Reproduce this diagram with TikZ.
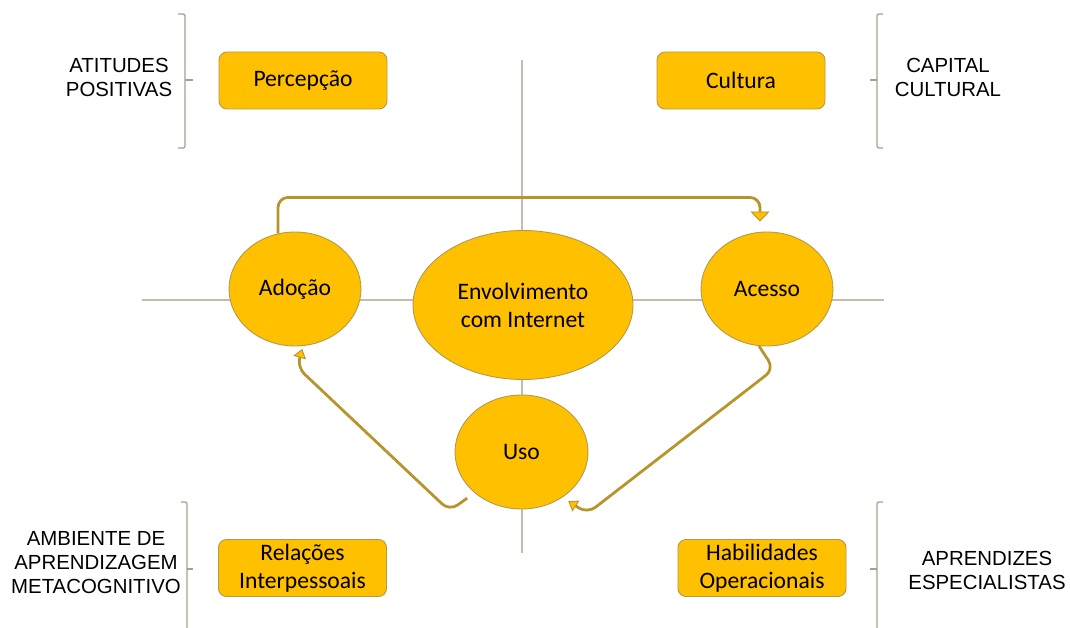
\documentclass[tikz,border=0pt]{standalone}
\usepackage{fontspec}
\setmainfont{Carlito}
\newfontfamily\labfont{Liberation Sans}
\usetikzlibrary{shapes.geometric,arrows.meta,calc}
\definecolor{gold}{HTML}{FFC000}
\definecolor{goldline}{HTML}{B39A4A}
\definecolor{arrowc}{HTML}{B8952C}
\definecolor{crossc}{HTML}{C4BDAE}
\definecolor{bracec}{HTML}{A89F8C}
\begin{document}
\begin{tikzpicture}[x=1pt,y=-1pt,
  ell/.style={ellipse,fill=gold,draw=goldline,line width=0.9pt,inner sep=0pt,align=center,
    font=\fontsize{23.6}{28}\selectfont},
  boxn/.style={rectangle,rounded corners=8pt,fill=gold,draw=goldline,line width=0.9pt,
    minimum width=168pt,minimum height=57pt,inner sep=0pt,align=center,
    font=\fontsize{23.6}{28}\selectfont},
  lab/.style={font=\labfont\fontsize{20.4}{24}\selectfont,align=center,inner sep=0pt},
  conn/.style={draw=arrowc,line width=2.8pt,rounded corners=10pt},
  bigtip/.style={-{Triangle[width=19pt,length=10pt,fill=gold,line width=0.9pt]}},
  smalltip/.style={-{Triangle[width=13pt,length=9pt,fill=gold,line width=0.9pt]}},
  crossl/.style={draw=crossc,line width=1.5pt},
  brace/.style={draw=bracec,line width=1.3pt,rounded corners=2pt},
]
\useasboundingbox (0,0) rectangle (1070,628);

% cross lines
\draw[crossl] (522,60) -- (522,553);
\draw[crossl] (142,300) -- (884,300);

% braces
\draw[brace] (178,14) -- (185,14) -- (185,148) -- (178,148);
\draw[brace] (185,80) -- (193,80);
\draw[brace] (883,14) -- (877,14) -- (877,148) -- (883,148);
\draw[brace] (877,80) -- (870,80);
\draw[brace] (181,502) -- (187,502) -- (187,640);
\draw[brace] (187,569) -- (193,569);
\draw[brace] (883,502) -- (877,502) -- (877,640);
\draw[brace] (877,569) -- (870,569);

% labels
\node[lab] (l1) at (119,77) {ATITUDES\\POSITIVAS};
\node[lab] (l2) at (948,77) {CAPITAL\\CULTURAL};
\node[lab] (l3) at (96,563) {AMBIENTE DE\\APRENDIZAGEM\\METACOGNITIVO};
\node[lab] (l4) at (987,570) {APRENDIZES\\ESPECIALISTAS};

% boxes
\node[boxn] (perc) at (303,80.5) {Percepção};
\node[boxn] (cult) at (741,80.5) {Cultura};
\node[boxn] (rel) at (302.5,568) {Relações\\Interpessoais};
\node[boxn] (hab) at (762,568) {Habilidades\\Operacionais};

% ellipses
\node[ell,minimum width=132pt,minimum height=114pt] (adocao) at (295,289) {Adoção};
\node[ell,minimum width=132pt,minimum height=114pt] (acesso) at (767,289) {Acesso};
\node[ell,minimum width=220pt,minimum height=149pt] (env) at (523,305) {Envolvimento\\com Internet};
\node[ell,minimum width=133pt,minimum height=114pt] (uso) at (521.5,452) {Uso};

% connectors
\draw[conn,bigtip] (adocao.107) -- ++(0,-36) -| ($(acesso.north)+(-7,-10)$);
\draw[conn,smalltip,shorten >=7pt] (acesso.262) -- ($(acesso.262)+(15,23)$) -- ($(uso.-48)+(25,16)$) -- (uso.-48);
\draw[conn,smalltip,shorten <=9pt,shorten >=3pt] (uso.221) -- ($(uso.221)+(-25,18)$) -- ($(adocao.-82)+(-6,21)$) -- (adocao.-82);
\end{tikzpicture}
\end{document}
